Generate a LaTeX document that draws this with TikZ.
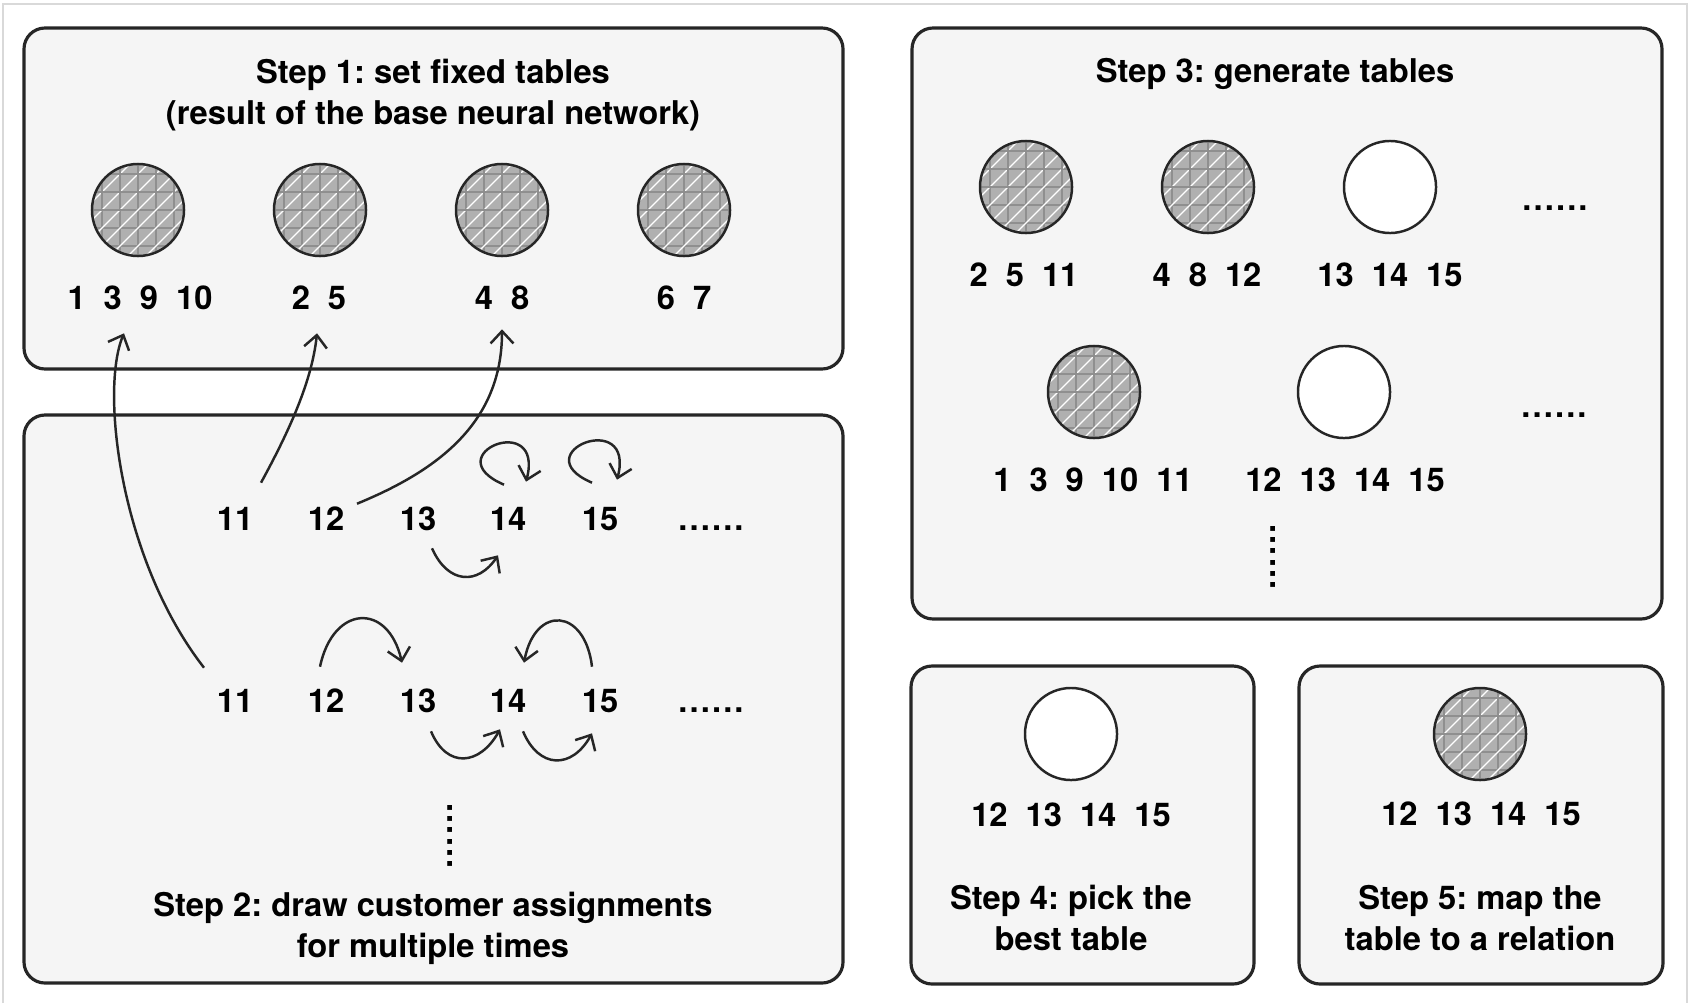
\documentclass[tikz,border=0pt]{standalone}
\usepackage{fontspec}
\setmainfont{TeX Gyre Heros}
\usepackage{xcolor}
\usepackage{tikz}
\usetikzlibrary{arrows.meta}

\newcommand{\stepfont}{\fontsize{9.3}{11.6}\selectfont\bfseries\frenchspacing}
\newcommand{\numfont}{\fontsize{9.3}{11.6}\selectfont\bfseries\spaceskip=.55em\relax}
\newcommand{\dotrun}{.\kern.6pt.\kern.6pt.\kern.6pt.\kern.6pt.\kern.6pt.}

\begin{document}
\begin{tikzpicture}[x=0.01cm,y=-0.01cm,
  panel/.style={draw=black!85,line width=0.9pt,rounded corners=0.21cm,fill=gray!8},
  title/.style={font=\stepfont,align=center,inner sep=0pt},
  num/.style={font=\numfont,inner sep=0pt,text height=6.6pt,text depth=0pt},
  arr/.style={-{Straight Barb[length=3.5pt,width=6.5pt]},line width=0.7pt,black!85},
  opentbl/.style={circle,draw=black!85,line width=0.7pt,minimum size=0.92cm,inner sep=0pt,fill=white},
  hatch/.style={circle,draw=black!85,line width=0.7pt,minimum size=0.92cm,inner sep=0pt,fill=gray!62,
    path picture={
      \foreach \k in {-5,...,5}{
        \draw[gray!88,line width=0.35pt]
          ([shift={(\k*0.18cm,-0.6cm)}]path picture bounding box.center) -- ++(0,1.2cm)
          ([shift={(-0.6cm,\k*0.18cm)}]path picture bounding box.center) -- ++(1.2cm,0);
        \draw[white,line width=0.35pt]
          ([shift={(\k*0.18cm-0.6cm,-0.6cm)}]path picture bounding box.center) -- ++(1.2cm,1.2cm);
      }}}]
  \useasboundingbox (0,0) rectangle (1689,1003);
  \draw[gray!30,line width=0.5pt] (3,1003) -- (3,4) -- (1687,4) -- (1687,1003);

  % --- Step 1 ---
  \draw[panel] (24,28) rectangle (843,369);
  \node[title] (t1) at (433,95) {Step 1: set fixed tables\\(result of the base neural network)};
  \node[hatch] (c1a) at (138,210) {};
  \node[hatch] (c1b) at (320,210) {};
  \node[hatch] (c1c) at (502,210) {};
  \node[hatch] (c1d) at (684,210) {};
  \node[num] (s1a) at (140,298) {1 3 9 10};
  \node[num] (s1b) at (319,298) {2 5};
  \node[num] (s1c) at (502,298) {4 8};
  \node[num] (s1d) at (684,298) {6 7};

  % --- Step 2 ---
  \draw[panel] (24,415) rectangle (843,983);
  \foreach \n/\x in {11/235,12/326,13/418,14/508,15/600}{
    \node[num] (u\n) at (\x,519) {\n};
    \node[num] (l\n) at (\x,701) {\n};
  }
  \node[num,anchor=base] (udots) at (711,530) {\dotrun};
  \node[num,anchor=base] (ldots) at (711,712) {\dotrun};
  \node[num,anchor=base,rotate=90] (vdots2) at (452,836) {\dotrun};
  \node[title] (t2) at (433,928) {Step 2: draw customer assignments\\for multiple times};
  % draws into the fixed tables
  \draw[arr] ([shift={(-31,-21)}]l11.north) .. controls +(-84,-108) and +(-24,57) .. ([shift={(-16,23)}]s1a.south);
  \draw[arr] ([shift={(26,-24)}]u11.north) .. controls +(29,-53) and +(-5,47) .. ([shift={(-2,23)}]s1b.south);
  \draw[arr] ([shift={(31,-3)}]u12.north) .. controls +(83,-34) and +(0,92) .. ([shift={(0,19)}]s1c.south);
  % first draw
  \draw[arr] ([shift={(-4,-22)}]u14.north) .. controls +(-70,-30) and +(19,-72) .. ([shift={(18,-25)}]u14.north);
  \draw[arr] ([shift={(-8,-24)}]u15.north) .. controls +(-70,-30) and +(19,-72) .. ([shift={(17,-27)}]u15.north);
  \draw[arr] ([shift={(14,17)}]u13.south) .. controls +(16,36) and +(-20,30) .. ([shift={(-10,24)}]u14.south);
  % second draw
  \draw[arr] ([shift={(-6,-22)}]l12.north) .. controls +(13,-62) and +(-14,-61) .. ([shift={(-16,-26)}]l13.north);
  \draw[arr] ([shift={(-8,-22)}]l15.north) .. controls +(-7,-59) and +(11,-58) .. ([shift={(16,-26)}]l14.north);
  \draw[arr] ([shift={(13,18)}]l13.south) .. controls +(16,38) and +(-20,36) .. ([shift={(-8,16)}]l14.south);
  \draw[arr] ([shift={(15,18)}]l14.south) .. controls +(16,38) and +(-20,36) .. ([shift={(-8,20)}]l15.south);

  % --- Step 3 ---
  \draw[panel] (912,28) rectangle (1662,619);
  \node[title] (t3) at (1275,74) {Step 3: generate tables};
  \node[hatch] (c3a) at (1026,187) {};
  \node[hatch] (c3b) at (1208,187) {};
  \node[opentbl] (c3c) at (1390,187) {};
  \node[num] (s3a) at (1024,275) {2 5 11};
  \node[num] (s3b) at (1207,275) {4 8 12};
  \node[num] (s3c) at (1390,275) {13 14 15};
  \node[num,anchor=base] (dots3a) at (1555,210) {\dotrun};
  \node[hatch] (c3d) at (1094,392) {};
  \node[opentbl] (c3e) at (1344,392) {};
  \node[num] (s3d) at (1093,480) {1 3 9 10 11};
  \node[num] (s3e) at (1345,480) {12 13 14 15};
  \node[num,anchor=base] (dots3b) at (1554,417) {\dotrun};
  \node[num,anchor=base,rotate=90] (vdots3) at (1275,557) {\dotrun};

  % --- Step 4 ---
  \draw[panel] (911,666) rectangle (1254,984);
  \node[opentbl] (c4) at (1071,734) {};
  \node[num] (s4) at (1071,815) {12 13 14 15};
  \node[title] (t4) at (1071,918) {Step 4: pick the\\best table};

  % --- Step 5 ---
  \draw[panel] (1299,666) rectangle (1663,984);
  \node[hatch] (c5) at (1480,734) {};
  \node[num] (s5) at (1481,814) {12 13 14 15};
  \node[title] (t5) at (1480,918) {Step 5: map the\\table to a relation};
\end{tikzpicture}
\end{document}
